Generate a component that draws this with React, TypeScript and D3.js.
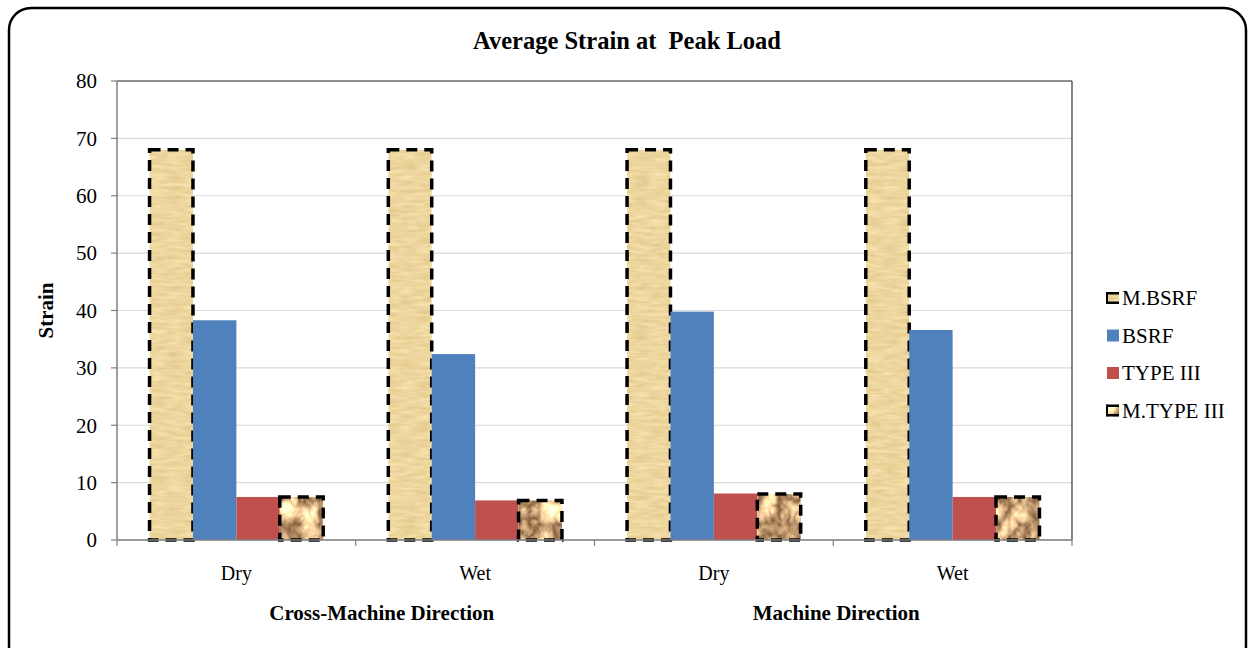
import React from "react";
import * as d3 from "d3";

const groups = ["CMD-Dry", "CMD-Wet", "MD-Dry", "MD-Wet"];
const groupLabels = ["Dry", "Wet", "Dry", "Wet"];
const outerLabels = ["Cross-Machine Direction", "Machine Direction"];
const series = ["M.BSRF", "BSRF", "TYPE III", "M.TYPE III"];
const mbsrf = [68, 68, 68, 68];
const bsrf = [38.3, 32.4, 39.8, 36.6];
const type3 = [7.5, 6.9, 8.1, 7.5];
const mtype3 = [7.5, 6.9, 8.0, 7.5];
const yTicks = [0, 10, 20, 30, 40, 50, 60, 70, 80];

const values = [mbsrf, bsrf, type3, mtype3];
const fills = ["#eed8a6", "#4f81bd", "#c0504d", "#c9a57c"];
const filters = ["url(#papyrusF)", undefined, undefined, "url(#marbleF)"];
const dashed = [true, false, false, true];

const W = 1249;
const H = 648;
const M = { left: 117, right: 1072, top: 81, bottom: 540 };
const FONT = "'Liberation Serif', 'Times New Roman', serif";

export default function App() {
  const x0 = d3.scaleBand<string>().domain(groups).range([M.left, M.right]).padding(0);
  const x1 = d3
    .scaleBand<string>()
    .domain(series)
    .range([0, x0.bandwidth()])
    .paddingInner(0)
    .paddingOuter(0.75);
  const y = d3.scaleLinear().domain([0, 80]).range([M.bottom, M.top]);
  const bw = x1.bandwidth();

  const outerCenters = [
    (x0(groups[0])! + x0(groups[1])! + x0.bandwidth()) / 2 + 26,
    (x0(groups[2])! + x0(groups[3])! + x0.bandwidth()) / 2 + 3,
  ];

  return (
    <svg
      width={W}
      height={H}
      style={{ position: "absolute", left: 0, top: 0, background: "#fff" }}
      fontFamily={FONT}
    >
      <defs>
        <filter id="papyrusF" x="0" y="0" width="1" height="1" colorInterpolationFilters="sRGB">
          <feTurbulence type="fractalNoise" baseFrequency="0.06 0.3" numOctaves={2} seed={3} result="n" />
          <feColorMatrix
            in="n"
            type="matrix"
            values="0.12 0 0 0 0.87  0.16 0 0 0 0.76  0.2 0 0 0 0.52  0 0 0 0 1"
            result="c"
          />
          <feComposite in="c" in2="SourceGraphic" operator="in" />
        </filter>
        <filter id="marbleF" x="0" y="0" width="1" height="1" colorInterpolationFilters="sRGB">
          <feTurbulence type="turbulence" baseFrequency="0.05 0.04" numOctaves={3} seed={7} result="n" />
          <feColorMatrix
            in="n"
            type="matrix"
            values="1.2 0 0 0 0.48  1.2 0 0 0 0.33  1.0 0 0 0 0.21  0 0 0 0 1"
            result="c"
          />
          <feComposite in="c" in2="SourceGraphic" operator="in" />
        </filter>
      </defs>

      {/* outer rounded frame */}
      <rect x={9} y={8} width={1237} height={660} rx={22} ry={22} fill="#fff" stroke="#000" strokeWidth={2.5} />

      {/* title */}
      <text x={627} y={49} textAnchor="middle" fontSize={24.5} fontWeight="bold" style={{ whiteSpace: "pre" }}>
        {"Average Strain at  Peak Load"}
      </text>

      {/* gridlines */}
      {yTicks.map((t) => (
        <line key={"g" + t} x1={M.left} x2={M.right} y1={y(t)} y2={y(t)} stroke="#d9d9d9" strokeWidth={1.2} />
      ))}

      {/* plot area border top/right */}
      <line x1={M.left} x2={M.right} y1={M.top} y2={M.top} stroke="#333" strokeWidth={1.2} />
      <line x1={M.right} x2={M.right} y1={M.top} y2={M.bottom} stroke="#333" strokeWidth={1.2} />

      {/* bars */}
      {groups.map((g, gi) =>
        series.map((s, si) => {
          const v = values[si][gi];
          const bx = x0(g)! + x1(s)!;
          const by = y(v);
          const bh = y(0) - y(v);
          return (
            <g key={g + s}>
              <rect x={bx} y={by} width={bw} height={bh} fill={fills[si]} filter={filters[si]} />
              {dashed[si] && (
                <rect
                  x={bx}
                  y={by}
                  width={bw}
                  height={bh}
                  fill="none"
                  stroke="#000"
                  strokeWidth={3.5}
                  strokeDasharray="11 7"
                />
              )}
            </g>
          );
        })
      )}

      {/* y axis */}
      <line x1={M.left} x2={M.left} y1={M.top} y2={M.bottom} stroke="#808080" strokeWidth={1.5} />
      {yTicks.map((t) => (
        <g key={"t" + t}>
          <line x1={M.left - 6} x2={M.left} y1={y(t)} y2={y(t)} stroke="#808080" strokeWidth={1.2} />
          <text x={97} y={y(t)} dy="0.35em" textAnchor="end" fontSize={21}>
            {t}
          </text>
        </g>
      ))}
      <text
        transform={`translate(53, ${(M.top + M.bottom) / 2}) rotate(-90)`}
        textAnchor="middle"
        fontSize={21}
        fontWeight="bold"
      >
        Strain
      </text>

      {/* x axis */}
      <line x1={M.left} x2={M.right} y1={M.bottom} y2={M.bottom} stroke="#808080" strokeWidth={1.5} />
      {[...groups.map((g) => x0(g)!), M.right].map((xx, i) => (
        <line key={"xt" + i} x1={xx} x2={xx} y1={M.bottom} y2={M.bottom + 6} stroke="#808080" strokeWidth={1.2} />
      ))}
      {groups.map((g, gi) => (
        <text key={"xl" + g} x={x0(g)! + x0.bandwidth() / 2} y={580} textAnchor="middle" fontSize={20}>
          {groupLabels[gi]}
        </text>
      ))}
      {outerLabels.map((l, i) => (
        <text key={"ol" + i} x={outerCenters[i]} y={620} textAnchor="middle" fontSize={21} fontWeight="bold">
          {l}
        </text>
      ))}

      {/* legend */}
      {series.map((s, si) => {
        const ly = 298 + si * 37.5;
        return (
          <g key={"lg" + s}>
            <rect x={1107} y={ly - 6} width={12} height={12} fill={fills[si]} filter={filters[si]} />
            {dashed[si] && (
              <g>
                <rect x={1107} y={ly - 6} width={12} height={2.5} fill="#000" />
                <rect x={1107} y={ly + 3.5} width={12} height={2.5} fill="#000" />
                <rect x={1106} y={ly - 6} width={2} height={12} fill="#000" />
              </g>
            )}
            <text x={1122} y={ly} dy="0.35em" fontSize={21}>
              {s}
            </text>
          </g>
        );
      })}
    </svg>
  );
}
